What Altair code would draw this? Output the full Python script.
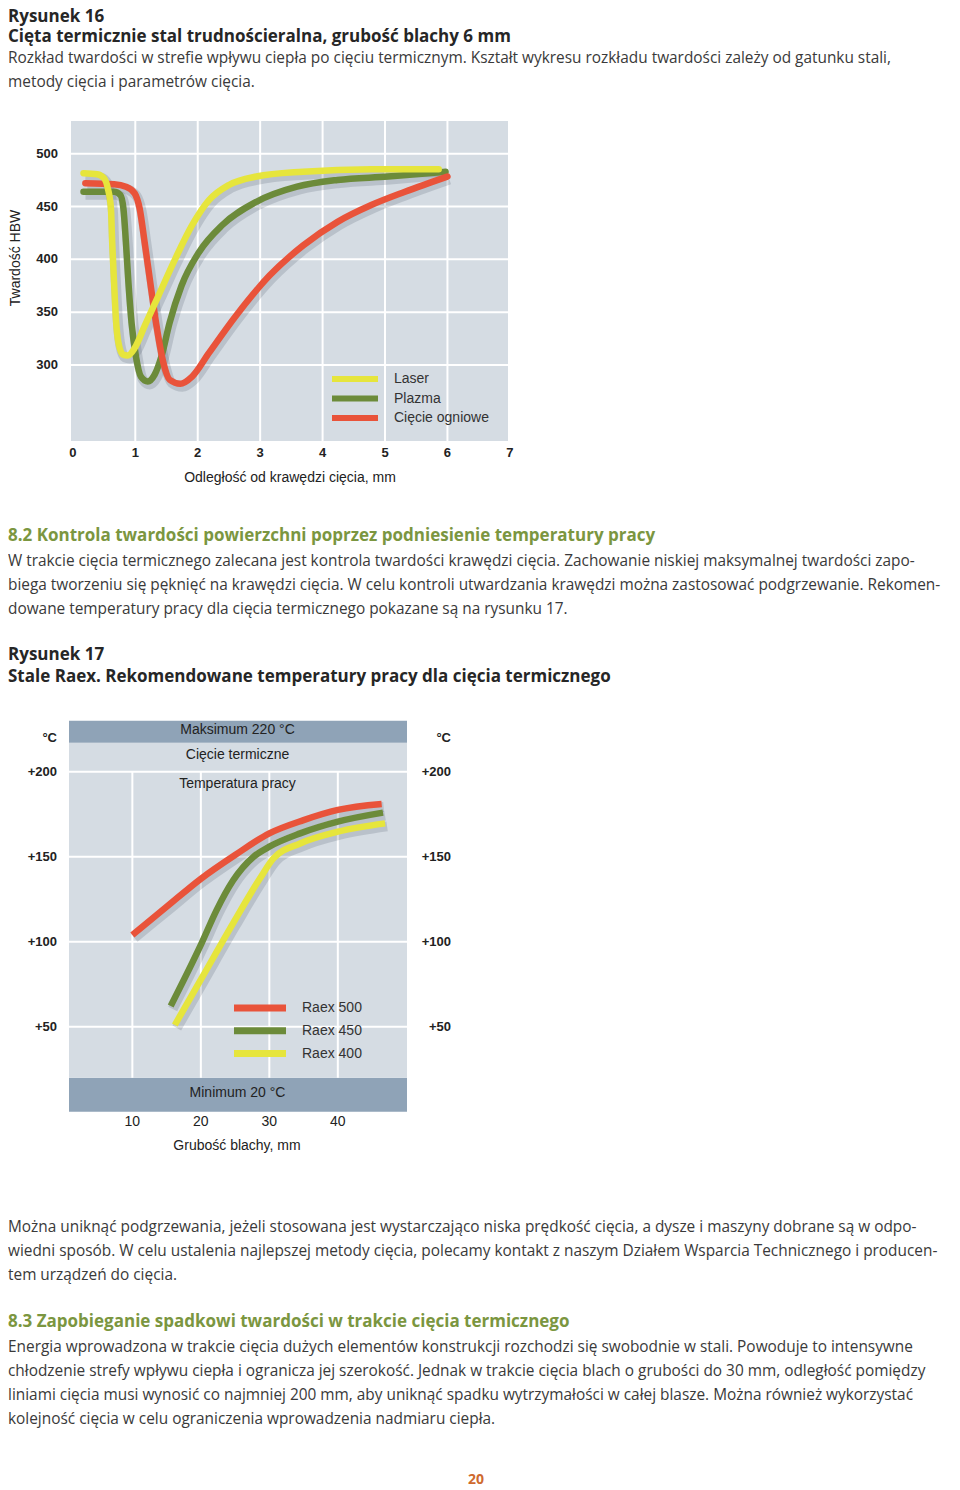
import altair as alt
import pandas as pd

# ---------------- page text ----------------
TXT_HEAD1 = ["Rysunek 16", "Cięta termicznie stal trudnościeralna, grubość blachy 6 mm"]
TXT_BODY1 = [
    "Rozkład twardości w strefie wpływu ciepła po cięciu termicznym. Kształt wykresu rozkładu twardości zależy od gatunku stali,",
    "metody cięcia i parametrów cięcia.",
]
TXT_SEC82 = "8.2 Kontrola twardości powierzchni poprzez podniesienie temperatury pracy"
TXT_BODY2 = [
    "W trakcie cięcia termicznego zalecana jest kontrola twardości krawędzi cięcia. Zachowanie niskiej maksymalnej twardości zapo-",
    "biega tworzeniu się pęknięć na krawędzi cięcia. W celu kontroli utwardzania krawędzi można zastosować podgrzewanie. Rekomen-",
    "dowane temperatury pracy dla cięcia termicznego pokazane są na rysunku 17.",
]
TXT_HEAD2 = ["Rysunek 17", "Stale Raex. Rekomendowane temperatury pracy dla cięcia termicznego"]
TXT_BODY3 = [
    "Można uniknąć podgrzewania, jeżeli stosowana jest wystarczająco niska prędkość cięcia, a dysze i maszyny dobrane są w odpo-",
    "wiedni sposób. W celu ustalenia najlepszej metody cięcia, polecamy kontakt z naszym Działem Wsparcia Technicznego i producen-",
    "tem urządzeń do cięcia.",
]
TXT_SEC83 = "8.3 Zapobieganie spadkowi twardości w trakcie cięcia termicznego"
TXT_BODY4 = [
    "Energia wprowadzona w trakcie cięcia dużych elementów konstrukcji rozchodzi się swobodnie w stali. Powoduje to intensywne",
    "chłodzenie strefy wpływu ciepła i ogranicza jej szerokość. Jednak w trakcie cięcia blach o grubości do 30 mm, odległość pomiędzy",
    "liniami cięcia musi wynosić co najmniej 200 mm, aby uniknąć spadku wytrzymałości w całej blasze. Można również wykorzystać",
    "kolejność cięcia w celu ograniczenia wprowadzenia nadmiaru ciepła.",
]
TXT_PAGE = "20"

# ---------------- Figure 16 data ----------------
F1_SERIES = ["Laser", "Plazma", "Cięcie ogniowe"]
F1_COLORS = ["#e6e53c", "#6c8b3a", "#e9533a"]
F1_XTICKS = [0, 1, 2, 3, 4, 5, 6, 7]
F1_YTICKS = [300, 350, 400, 450, 500]
F1_XGRID = [1, 2, 3, 4, 5, 6]
F1_XTITLE = "Odległość od krawędzi cięcia, mm"
F1_YTITLE = "Twardość HBW"

laser_x = [0.17, 0.39, 0.50, 0.56, 0.61, 0.63, 0.66, 0.69, 0.73, 0.80, 0.88, 0.99, 1.15, 1.37, 1.64, 1.91, 2.18, 2.50, 2.94, 3.69, 4.78, 5.86]
laser_y = [481.6, 480.6, 476.8, 467.2, 448, 416, 378, 343, 321, 310, 309, 316, 337, 365.5, 400.5, 432.3, 456, 470.4, 478.4, 483, 485.4, 485.4]
plazma_x = [0.17, 0.66, 0.76, 0.81, 0.85, 0.89, 0.94, 1.01, 1.09, 1.20, 1.31, 1.42, 1.55, 1.74, 2.02, 2.39, 2.94, 3.59, 4.24, 5.05, 5.97]
plazma_y = [464, 464, 461, 448, 416, 378, 340, 308.3, 289, 284.4, 290.8, 308.3, 340, 375, 406.8, 432.3, 454.5, 468.8, 475.2, 478.4, 483]
ogien_x = [0.20, 0.66, 0.85, 0.99, 1.07, 1.15, 1.24, 1.34, 1.45, 1.55, 1.72, 1.91, 2.18, 2.61, 3.15, 3.69, 4.24, 4.78, 5.32, 6.00]
ogien_y = [472, 471, 468.8, 462.5, 448, 416, 378, 337, 302, 286, 282.2, 289, 311.4, 346.4, 384.6, 413.2, 435.5, 451.4, 464, 478.4]

# ---------------- Figure 17 data ----------------
F2_SERIES = ["Raex 500", "Raex 450", "Raex 400"]
F2_COLORS = ["#e9533a", "#6c8b3a", "#e6e53c"]
F2_XTICKS = [10, 20, 30, 40]
F2_YTICKS = [50, 100, 150, 200]
F2_YLABELS = ["+50", "+100", "+150", "+200"]
F2_XTITLE = "Grubość blachy, mm"
F2_UNIT = "°C"
F2_MAX_T = 220
F2_MIN_T = 20
F2_BAND_TEXT = ["Maksimum 220 °C", "Cięcie termiczne", "Temperatura pracy", "Minimum 20 °C"]

r500_x = [10, 15, 20, 25, 30, 35, 40, 46.4]
r500_y = [104, 120.5, 137, 151, 163.7, 171.5, 177.5, 181]
r450_x = [15.6, 20.1, 22.3, 24.7, 27.7, 30, 34.5, 40, 46.6]
r450_y = [62.2, 99, 118.6, 136, 150, 155.9, 163.7, 170.6, 175.9]
r400_x = [16.2, 20.1, 24.7, 28.6, 30.6, 34.5, 40, 46.9]
r400_y = [51, 78.4, 110.8, 137, 149, 157.8, 164.7, 169.6]

# ---------------- layout / style ----------------
OX, OY = 8, 8
def px(x):
    return x - OX
def py(y):
    return y - OY

FONT_UI = "Liberation Sans, Arial, sans-serif"
FONT_TXT = "Open Sans, sans-serif"
C_BODY = "#3a3a3a"
C_HEAD = "#262626"
C_GREEN = "#7b9640"
C_PANEL = "#d5dce3"
C_BAND = "#8fa3b7"
C_LABEL = "#222222"

layers = []


def text_line(txt, x, y, size, weight="normal", color=C_BODY, font=FONT_TXT, align="left", angle=0):
    return alt.Chart(pd.DataFrame({"t": [txt]})).mark_text(
        align=align, baseline="middle", fontSize=size, fontWeight=weight,
        color=color, font=font, angle=angle
    ).encode(x=alt.value(px(x)), y=alt.value(py(y)), text="t:N")


# page text
BODY_SIZE = 15.4
HEAD_SIZE = 17
TEXT_X = 8
layers.append(text_line(TXT_HEAD1[0], TEXT_X, 17, HEAD_SIZE, "bold", C_HEAD))
layers.append(text_line(TXT_HEAD1[1], TEXT_X, 37, HEAD_SIZE, "bold", C_HEAD))
for t, y in zip(TXT_BODY1, [58, 82]):
    layers.append(text_line(t, TEXT_X, y, BODY_SIZE))
layers.append(text_line(TXT_SEC82, TEXT_X, 536, HEAD_SIZE, "bold", C_GREEN))
for t, y in zip(TXT_BODY2, [561, 585, 609]):
    layers.append(text_line(t, TEXT_X, y, BODY_SIZE))
layers.append(text_line(TXT_HEAD2[0], TEXT_X, 655, HEAD_SIZE, "bold", C_HEAD))
layers.append(text_line(TXT_HEAD2[1], TEXT_X, 677, HEAD_SIZE, "bold", C_HEAD))
for t, y in zip(TXT_BODY3, [1227, 1251, 1275]):
    layers.append(text_line(t, TEXT_X, y, BODY_SIZE))
layers.append(text_line(TXT_SEC83, TEXT_X, 1322, HEAD_SIZE, "bold", C_GREEN))
for t, y in zip(TXT_BODY4, [1347, 1371, 1395, 1419]):
    layers.append(text_line(t, TEXT_X, y, BODY_SIZE))
layers.append(text_line(TXT_PAGE, 476, 1480, 14, "bold", "#cf6a2e", align="center"))

# ================= Figure 16 =================
P1_L, P1_R, P1_T, P1_B = 71, 508, 121, 441
X1_DOM = [-0.03, 6.97]
Y1_DOM = [228, 531]
xs1 = alt.Scale(domain=X1_DOM, range=[px(P1_L), px(P1_R)], nice=False, zero=False)
ys1 = alt.Scale(domain=Y1_DOM, range=[py(P1_B), py(P1_T)], nice=False, zero=False)
col1 = alt.Scale(domain=F1_SERIES, range=F1_COLORS)

bg1 = pd.DataFrame({"x0": [X1_DOM[0]], "x1": [X1_DOM[1]], "y0": [Y1_DOM[0]], "y1": [Y1_DOM[1]]})
layers.append(alt.Chart(bg1).mark_rect(color=C_PANEL).encode(
    x=alt.X("x0:Q", scale=xs1, axis=None), x2="x1:Q",
    y=alt.Y("y0:Q", scale=ys1, axis=None), y2="y1:Q"))
layers.append(alt.Chart(pd.DataFrame({"v": F1_XGRID})).mark_rule(color="white", strokeWidth=2).encode(
    x=alt.X("v:Q", scale=xs1, axis=None), y=alt.value(py(P1_T)), y2=alt.value(py(P1_B))))
layers.append(alt.Chart(pd.DataFrame({"h": F1_YTICKS})).mark_rule(color="white", strokeWidth=2).encode(
    y=alt.Y("h:Q", scale=ys1, axis=None), x=alt.value(px(P1_L)), x2=alt.value(px(P1_R))))

# tick labels
layers.append(alt.Chart(pd.DataFrame({"v": F1_XTICKS, "t": [str(v) for v in F1_XTICKS]})).mark_text(
    font=FONT_UI, fontSize=13, fontWeight="bold", color=C_LABEL, baseline="middle").encode(
    x=alt.X("v:Q", scale=xs1, axis=None), y=alt.value(py(453)), text="t:N"))
layers.append(alt.Chart(pd.DataFrame({"h": F1_YTICKS, "t": [str(v) for v in F1_YTICKS]})).mark_text(
    font=FONT_UI, fontSize=13, fontWeight="bold", color=C_LABEL, baseline="middle", align="right").encode(
    y=alt.Y("h:Q", scale=ys1, axis=None), x=alt.value(px(58)), text="t:N"))
layers.append(text_line(F1_XTITLE, 290, 478, 14, color=C_LABEL, font=FONT_UI, align="center"))
layers.append(text_line(F1_YTITLE, 16, 258, 14, color=C_LABEL, font=FONT_UI, align="center", angle=270))

f1 = pd.concat([
    pd.DataFrame({"series": F1_SERIES[0], "d": laser_x, "hb": laser_y}),
    pd.DataFrame({"series": F1_SERIES[1], "d": plazma_x, "hb": plazma_y}),
    pd.DataFrame({"series": F1_SERIES[2], "d": ogien_x, "hb": ogien_y}),
])
# shadows
layers.append(alt.Chart(f1).mark_line(color="#3d4a57", opacity=0.18, strokeWidth=10, interpolate="monotone",
                                      xOffset=2, yOffset=3).encode(
    x=alt.X("d:Q", scale=xs1, axis=None), y=alt.Y("hb:Q", scale=ys1, axis=None), detail="series:N"))
for s in [F1_SERIES[1], F1_SERIES[2], F1_SERIES[0]]:
    layers.append(alt.Chart(f1).transform_filter(alt.datum.series == s).mark_line(
        strokeWidth=6.5, interpolate="monotone", strokeCap="round").encode(
        x=alt.X("d:Q", scale=xs1, axis=None), y=alt.Y("hb:Q", scale=ys1, axis=None),
        color=alt.Color("series:N", scale=col1, legend=None)))

# legend 1
leg1 = pd.DataFrame({"series": F1_SERIES})
ly1 = alt.Scale(type="point", domain=F1_SERIES, range=[py(379), py(418)], padding=0)
layers.append(alt.Chart(leg1).mark_rule(strokeWidth=6).encode(
    x=alt.value(px(332)), x2=alt.value(px(378)),
    y=alt.Y("series:N", scale=ly1, axis=None),
    color=alt.Color("series:N", scale=col1, legend=None)))
layers.append(alt.Chart(leg1).mark_text(align="left", baseline="middle", font=FONT_UI, fontSize=14, color="#333").encode(
    x=alt.value(px(394)), y=alt.Y("series:N", scale=ly1, axis=None), text="series:N"))

# ================= Figure 17 =================
P2_L, P2_R, P2_T, P2_B = 69, 407, 720.7, 1111.7
X2_DOM = [0.75, 50.1]
Y2_DOM = [0, 230]
xs2 = alt.Scale(domain=X2_DOM, range=[px(P2_L), px(P2_R)], nice=False, zero=False)
ys2 = alt.Scale(domain=Y2_DOM, range=[py(P2_B), py(P2_T)], nice=False, zero=False)
col2 = alt.Scale(domain=F2_SERIES, range=F2_COLORS)

bands = pd.DataFrame({
    "x0": [X2_DOM[0]] * 3, "x1": [X2_DOM[1]] * 3,
    "y0": [Y2_DOM[0], F2_MIN_T, F2_MAX_T - 3],
    "y1": [F2_MIN_T, F2_MAX_T - 3, Y2_DOM[1]],
    "kind": ["band", "panel", "band"],
})
layers.append(alt.Chart(bands).mark_rect().encode(
    x=alt.X("x0:Q", scale=xs2, axis=None), x2="x1:Q",
    y=alt.Y("y0:Q", scale=ys2, axis=None), y2="y1:Q",
    color=alt.Color("kind:N", scale=alt.Scale(domain=["band", "panel"], range=[C_BAND, C_PANEL]), legend=None)))
vgrid2 = pd.DataFrame({"v": F2_XTICKS, "y0": [F2_MIN_T] * 4, "y1": [F2_YTICKS[-1]] * 4})
layers.append(alt.Chart(vgrid2).mark_rule(color="white", strokeWidth=2).encode(
    x=alt.X("v:Q", scale=xs2, axis=None), y=alt.Y("y0:Q", scale=ys2, axis=None), y2="y1:Q"))
layers.append(alt.Chart(pd.DataFrame({"h": F2_YTICKS})).mark_rule(color="white", strokeWidth=2).encode(
    y=alt.Y("h:Q", scale=ys2, axis=None), x=alt.value(px(P2_L)), x2=alt.value(px(P2_R))))

ylab2 = pd.DataFrame({"h": F2_YTICKS, "t": F2_YLABELS})
for xr in [57, 451]:
    layers.append(alt.Chart(ylab2).mark_text(font=FONT_UI, fontSize=13, fontWeight="bold", color=C_LABEL,
                                             baseline="middle", align="right").encode(
        y=alt.Y("h:Q", scale=ys2, axis=None), x=alt.value(px(xr)), text="t:N"))
    layers.append(text_line(F2_UNIT, xr, 738, 13, "bold", C_LABEL, FONT_UI, align="right"))
layers.append(alt.Chart(pd.DataFrame({"v": F2_XTICKS, "t": [str(v) for v in F2_XTICKS]})).mark_text(
    font=FONT_UI, fontSize=14, color=C_LABEL, baseline="middle").encode(
    x=alt.X("v:Q", scale=xs2, axis=None), y=alt.value(py(1122)), text="t:N"))
layers.append(text_line(F2_XTITLE, 237, 1146, 14, color=C_LABEL, font=FONT_UI, align="center"))
for t, y in zip(F2_BAND_TEXT, [730, 755, 784, 1093]):
    layers.append(text_line(t, 237.5, y, 14, color=C_LABEL, font=FONT_UI, align="center"))

f2 = pd.concat([
    pd.DataFrame({"series": F2_SERIES[0], "t": r500_x, "temp": r500_y}),
    pd.DataFrame({"series": F2_SERIES[1], "t": r450_x, "temp": r450_y}),
    pd.DataFrame({"series": F2_SERIES[2], "t": r400_x, "temp": r400_y}),
])
layers.append(alt.Chart(f2).mark_line(color="#3d4a57", opacity=0.18, strokeWidth=10, interpolate="monotone",
                                      xOffset=2, yOffset=3).encode(
    x=alt.X("t:Q", scale=xs2, axis=None), y=alt.Y("temp:Q", scale=ys2, axis=None), detail="series:N"))
for s in [F2_SERIES[2], F2_SERIES[1], F2_SERIES[0]]:
    layers.append(alt.Chart(f2).transform_filter(alt.datum.series == s).mark_line(
        strokeWidth=6.5, interpolate="monotone").encode(
        x=alt.X("t:Q", scale=xs2, axis=None), y=alt.Y("temp:Q", scale=ys2, axis=None),
        color=alt.Color("series:N", scale=col2, legend=None)))

leg2 = pd.DataFrame({"series": F2_SERIES})
ly2 = alt.Scale(type="point", domain=F2_SERIES, range=[py(1008), py(1053.5)], padding=0)
layers.append(alt.Chart(leg2).mark_rule(strokeWidth=7).encode(
    x=alt.value(px(234)), x2=alt.value(px(286)),
    y=alt.Y("series:N", scale=ly2, axis=None),
    color=alt.Color("series:N", scale=col2, legend=None)))
layers.append(alt.Chart(leg2).mark_text(align="left", baseline="middle", font=FONT_UI, fontSize=14, color="#333").encode(
    x=alt.value(px(302)), y=alt.Y("series:N", scale=ly2, axis=None), text="series:N"))

chart = alt.layer(*layers).resolve_scale(
    x="independent", y="independent", color="independent"
).properties(
    width=944, height=1482, padding=0, background="white",
    autosize=alt.AutoSizeParams(type="none")
).configure_view(stroke=None, strokeWidth=0)

chart.save("out.html", embed_options={"renderer": "svg", "actions": False})
